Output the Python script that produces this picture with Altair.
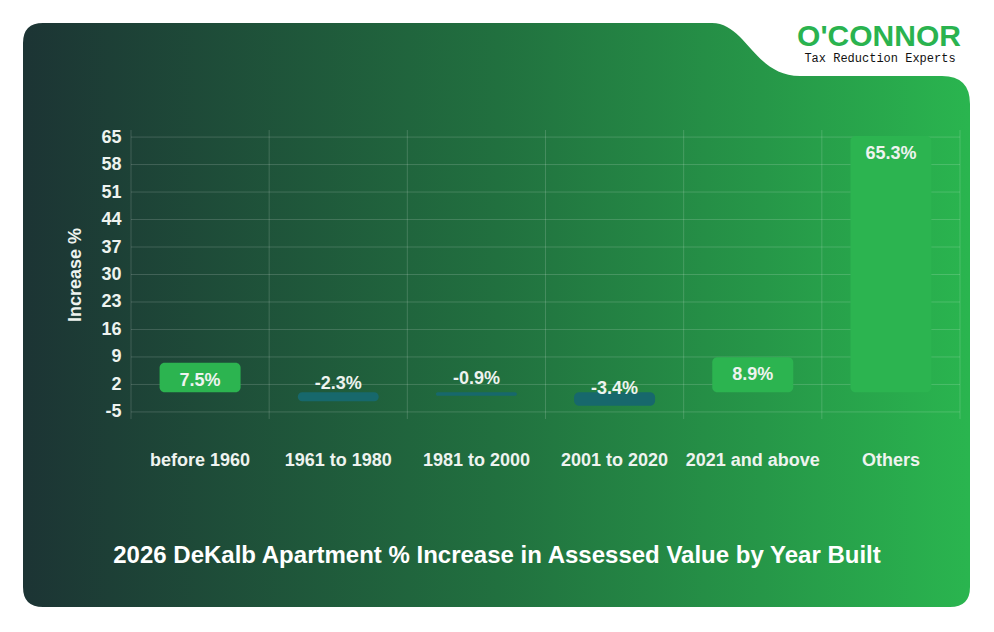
import altair as alt
import pandas as pd

# Assessed value change by year built
categories = ["before 1960", "1961 to 1980", "1981 to 2000", "2001 to 2020", "2021 and above", "Others"]
values = [7.5, -2.3, -0.9, -3.4, 8.9, 65.3]
y_ticks = [-5, 2, 9, 16, 23, 30, 37, 44, 51, 58, 65]

title_text = "2026 DeKalb Apartment % Increase in Assessed Value by Year Built"
brand_name = "O'CONNOR"
brand_tagline = "Tax Reduction Experts"

# Plot-area geometry inside the 994x632 canvas
PLOT_L, PLOT_T = 131, 130
W, H = 829, 289

FONT = "Liberation Sans"
TEXT = "#eef3ef"
GRID = "rgba(255,255,255,0.16)"
POS = "#2cb450"
NEG = "#17686c"

bars_df = pd.DataFrame({"category": categories, "value": values})
bars_df["label"] = [f"{v:.1f}%" for v in values]
ticks_df = pd.DataFrame({"tick": y_ticks})
cats_df = pd.DataFrame({"category": categories})
one = pd.DataFrame({"t": [title_text]})

# Card outline: rounded rectangle with the logo notch at the top right
CARD_PATH = (
    "M 43 23 L 712 23 C 746 23 754 76 800 76 L 942 76 Q 970 76 970 104 "
    "L 970 587 Q 970 607 950 607 L 43 607 Q 23 607 23 587 L 23 43 Q 23 23 43 23 Z"
)

card_fill = alt.LinearGradient(
    gradient="linear",
    stops=[
        alt.GradientStop(color="#1c3434", offset=0),
        alt.GradientStop(color="#21703f", offset=0.5),
        alt.GradientStop(color="#2ab54f", offset=1),
    ],
    x1=0, x2=1, y1=0, y2=0,
)

x_axis = alt.Axis(
    title=None, labelAngle=0, labelPadding=32, ticks=False, domain=False, grid=False,
    labelFont=FONT, labelFontSize=18, labelFontWeight="bold", labelColor=TEXT, zindex=1,
)
y_axis = alt.Axis(
    title="Increase %", values=y_ticks, ticks=False, domain=False, grid=False,
    labelExpr="'' + datum.value",
    labelFont=FONT, labelFontSize=18, labelFontWeight="bold", labelColor=TEXT,
    labelPadding=10, titleFont=FONT, titleFontSize=18, titleFontWeight="bold",
    titleColor=TEXT, titlePadding=16, zindex=1,
)
x_scale = alt.Scale(paddingInner=0, paddingOuter=0)
y_scale = alt.Scale(domain=[-6.8, 66.8], nice=False, zero=False)

card = alt.Chart(one).mark_point(
    shape=CARD_PATH, size=4, filled=True, fill=card_fill, opacity=1, strokeWidth=0
).encode(x=alt.value(-PLOT_L), y=alt.value(-PLOT_T))

hgrid = alt.Chart(ticks_df).mark_rule(color=GRID, strokeWidth=1).encode(
    y=alt.Y("tick:Q", scale=y_scale, axis=y_axis)
)
vgrid = alt.Chart(cats_df).mark_rule(color=GRID, strokeWidth=1).encode(
    x=alt.X("category:N", sort=categories, scale=x_scale, axis=x_axis, bandPosition=0),
    y=alt.value(0), y2=alt.value(H),
)
vgrid_end = alt.Chart(one).mark_rule(color=GRID, strokeWidth=1).encode(
    x=alt.value(W), y=alt.value(0), y2=alt.value(H)
)

bars = alt.Chart(bars_df).mark_bar(
    cornerRadius=5, width=alt.RelativeBandSize(0.586)
).encode(
    x=alt.X("category:N", sort=categories, scale=x_scale, axis=x_axis),
    y=alt.Y("value:Q", scale=y_scale, axis=y_axis),
    y2=alt.datum(0),
    color=alt.condition(alt.datum.value >= 0, alt.value(POS), alt.value(NEG)),
)

label_style = dict(font=FONT, fontSize=18, fontWeight="bold", color=TEXT, baseline="middle")
pos_labels = alt.Chart(bars_df).transform_filter(alt.datum.value >= 0).mark_text(
    dy=18, **label_style
).encode(
    x=alt.X("category:N", sort=categories, scale=x_scale, axis=x_axis),
    y=alt.Y("value:Q", scale=y_scale, axis=y_axis),
    text="label:N",
)
neg_labels = alt.Chart(bars_df).transform_filter(alt.datum.value < 0).mark_text(
    dy=-17, **label_style
).encode(
    x=alt.X("category:N", sort=categories, scale=x_scale, axis=x_axis),
    y=alt.Y("value:Q", scale=y_scale, axis=y_axis),
    text="label:N",
)

title = alt.Chart(one).mark_text(
    text=title_text, font=FONT, fontSize=24, fontWeight="bold", color="#ffffff",
    align="center", baseline="middle",
).encode(x=alt.value(497 - PLOT_L), y=alt.value(556 - PLOT_T))

logo = alt.Chart(one).mark_text(
    text=brand_name, font=FONT, fontSize=30, fontWeight="bold", color="#2ab34f",
    align="center", baseline="alphabetic",
).encode(x=alt.value(879 - PLOT_L), y=alt.value(46 - PLOT_T))

tagline = alt.Chart(one).mark_text(
    text=brand_tagline, font="Liberation Mono", fontSize=12, color="#111111",
    align="center", baseline="top",
).encode(x=alt.value(880 - PLOT_L), y=alt.value(53 - PLOT_T))

chart = alt.layer(
    card, hgrid, vgrid, vgrid_end, bars, pos_labels, neg_labels, title, logo, tagline
).properties(
    width=W, height=H,
    padding={"left": PLOT_L, "top": PLOT_T, "right": 994 - PLOT_L - W, "bottom": 632 - PLOT_T - H},
    autosize=alt.AutoSizeParams(type="none"),
    background="#ffffff",
).configure_view(stroke=None)

chart.save("out.html", embed_options={"renderer": "svg", "actions": False})
